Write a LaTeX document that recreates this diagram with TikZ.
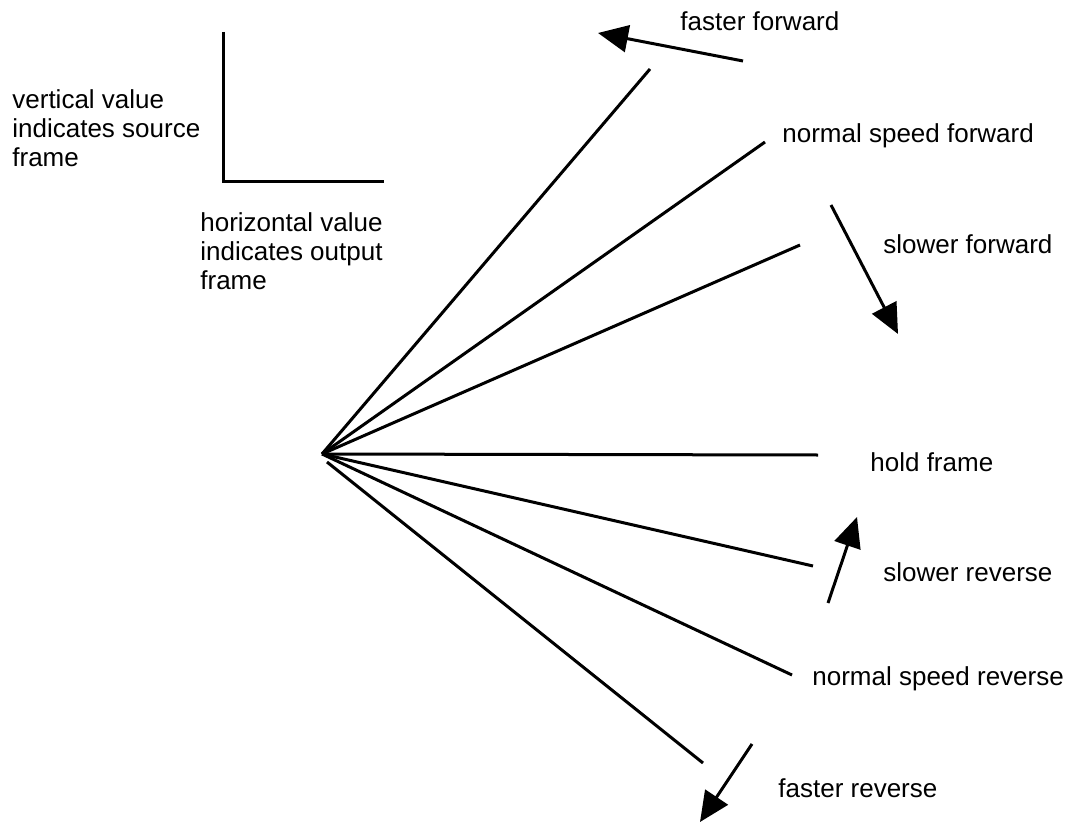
\documentclass[tikz,border=0pt]{standalone}
\usepackage{fontspec}
\setmainfont{Liberation Sans}
\usetikzlibrary{arrows.meta}
\begin{document}
\begin{tikzpicture}[x=0.5pt,y=-0.5pt,
  ray/.style={line width=1.5pt},
  dirarrow/.style={line width=1.5pt,-{Triangle[length=15pt,width=13.5pt]}},
  lbl/.style={inner sep=0pt,anchor=base west,font=\fontsize{13pt}{14.5pt}\selectfont},
  mlbl/.style={lbl,align=left}]
\useasboundingbox (0,0) rectangle (1074,823);
% axes legend
\coordinate (axtop) at (223,32);
\coordinate (axcorner) at (223,182);
\coordinate (axright) at (384,182);
\draw[ray] (axtop) -- (axcorner) -- (axright);
% anchor base = baseline of the last line
\node[mlbl] (vtxt) at (12,167) {vertical value\\indicates source\\frame};
\node[mlbl] (htxt) at (200,290) {horizontal value\\indicates output\\frame};
% origin and rays
\coordinate (O) at (322,454);
\coordinate (O2) at (327,462);
\coordinate (eff) at (650,69);
\coordinate (ensf) at (765,142);
\coordinate (esf) at (800,245);
\coordinate (ehf) at (818,455);
\coordinate (esr) at (813,566);
\coordinate (ensr) at (792,675);
\coordinate (efr) at (703,763);
\draw[ray] (O) -- (eff);
\draw[ray] (O) -- (ensf);
\draw[ray] (O) -- (esf);
\draw[ray] (O) -- (ehf);
\draw[ray] (O) -- (esr);
\draw[ray] (O) -- (ensr);
\draw[ray] (O2) -- (efr);
% labels
\node[lbl] (tff) at (680,31) {faster forward};
\node[lbl] (tnsf) at (782,143) {normal speed forward};
\node[lbl] (tsf) at (883,254) {slower forward};
\node[lbl] (thf) at (870,471) {hold frame};
\node[lbl] (tsr) at (883,581) {slower reverse};
\node[lbl] (tnsr) at (812,685) {normal speed reverse};
\node[lbl] (tfr) at (778,797) {faster reverse};
% direction arrows
\coordinate (aff1) at (743,61);
\coordinate (aff2) at (598,33);
\coordinate (asf1) at (831,205);
\coordinate (asf2) at (898,334);
\coordinate (asr1) at (828,603);
\coordinate (asr2) at (857,517);
\coordinate (afr1) at (752,744);
\coordinate (afr2) at (700,822);
\draw[dirarrow] (aff1) -- (aff2);
\draw[dirarrow] (asf1) -- (asf2);
\draw[dirarrow] (asr1) -- (asr2);
\draw[dirarrow] (afr1) -- (afr2);
\end{tikzpicture}
\end{document}
